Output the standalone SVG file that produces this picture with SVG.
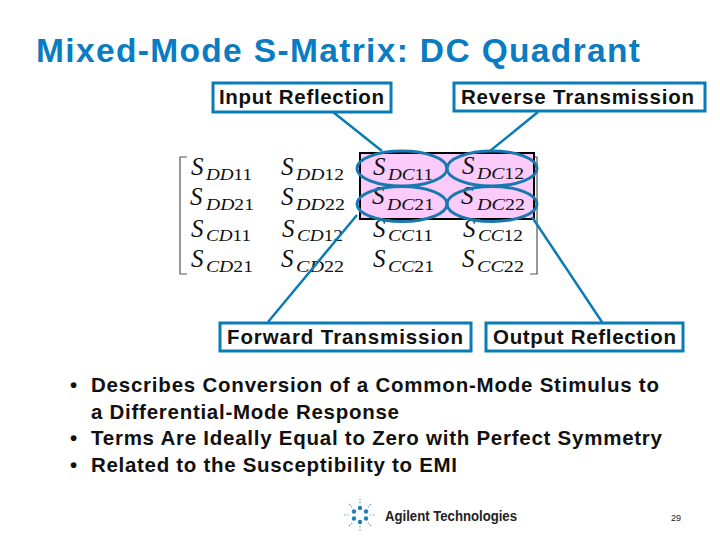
<svg xmlns="http://www.w3.org/2000/svg" width="720" height="540" viewBox="0 0 720 540">
<style>
text{font-family:"Liberation Sans",Arial,sans-serif}
.title{font-size:33.500px;font-weight:700;fill:#0a7cc1}
.lab{font-size:20.500px;font-weight:700;fill:#111}
.bul{font-size:20.500px;font-weight:700;fill:#111}
.box{fill:#fff;stroke:#0a7cb5;stroke-width:3}
.con{stroke:#0a7cb5;stroke-width:2.500;fill:none}
.el{fill:none;stroke:#1a78b0;stroke-width:3}
.s{font-family:"Liberation Serif",serif;font-style:italic;font-size:25px;fill:#111}
.b{font-family:"Liberation Serif",serif;font-size:16px;fill:#111}
.b tspan{font-style:italic}
.br{fill:none;stroke:#555;stroke-width:1.200}
.d{fill:#1f7fb5}
</style>
<rect width="720" height="540" fill="#fff"/>
<text class="title" x="36" y="62" textLength="604">Mixed-Mode S-Matrix: DC Quadrant</text>
<g id="matrix">
<path class="br" d="M187 157H180V274H187M530 157H537V274H530"/>
<rect x="360" y="153" width="174" height="66" fill="#fbccfb" stroke="#000" stroke-width="2"/>
<g id="row1">
<text class="s" x="191" y="175">S</text><text class="b" x="206" y="180" textLength="46" lengthAdjust="spacingAndGlyphs"><tspan>DD</tspan>11</text>
<text class="s" x="281" y="175">S</text><text class="b" x="296" y="180" textLength="48" lengthAdjust="spacingAndGlyphs"><tspan>DD</tspan>12</text>
<text class="s" x="373" y="175">S</text><text class="b" x="388" y="180" textLength="45" lengthAdjust="spacingAndGlyphs"><tspan>DC</tspan>11</text>
<text class="s" x="462" y="174">S</text><text class="b" x="477" y="179" textLength="47" lengthAdjust="spacingAndGlyphs"><tspan>DC</tspan>12</text>
</g>
<g id="row2">
<text class="s" x="190" y="205">S</text><text class="b" x="206" y="210" textLength="48" lengthAdjust="spacingAndGlyphs"><tspan>DD</tspan>21</text>
<text class="s" x="281" y="205">S</text><text class="b" x="296" y="210" textLength="49" lengthAdjust="spacingAndGlyphs"><tspan>DD</tspan>22</text>
<text class="s" x="372" y="204">S</text><text class="b" x="387" y="210" textLength="47" lengthAdjust="spacingAndGlyphs"><tspan>DC</tspan>21</text>
<text class="s" x="461" y="204">S</text><text class="b" x="477" y="210" textLength="48" lengthAdjust="spacingAndGlyphs"><tspan>DC</tspan>22</text>
</g>
<g id="row3">
<text class="s" x="191" y="237">S</text><text class="b" x="206" y="241" textLength="45" lengthAdjust="spacingAndGlyphs"><tspan>CD</tspan>11</text>
<text class="s" x="282" y="237">S</text><text class="b" x="297" y="241" textLength="46" lengthAdjust="spacingAndGlyphs"><tspan>CD</tspan>12</text>
<text class="s" x="373" y="237">S</text><text class="b" x="388" y="241" textLength="45" lengthAdjust="spacingAndGlyphs"><tspan>CC</tspan>11</text>
<text class="s" x="463" y="237">S</text><text class="b" x="478" y="241" textLength="45" lengthAdjust="spacingAndGlyphs"><tspan>CC</tspan>12</text>
</g>
<g id="row4">
<text class="s" x="191" y="267">S</text><text class="b" x="206" y="272" textLength="47" lengthAdjust="spacingAndGlyphs"><tspan>CD</tspan>21</text>
<text class="s" x="281" y="267">S</text><text class="b" x="296" y="272" textLength="48" lengthAdjust="spacingAndGlyphs"><tspan>CD</tspan>22</text>
<text class="s" x="373" y="267">S</text><text class="b" x="388" y="272" textLength="46" lengthAdjust="spacingAndGlyphs"><tspan>CC</tspan>21</text>
<text class="s" x="462" y="267">S</text><text class="b" x="477" y="272" textLength="47" lengthAdjust="spacingAndGlyphs"><tspan>CC</tspan>22</text>
</g>
</g>
<g id="connectors">
<path class="con" d="M333 112L382 151M538 112L490 151M357 215L268 322M532 217L602 322"/>
<ellipse class="el" cx="402" cy="168.500" rx="45" ry="17.500"/>
<ellipse class="el" cx="492" cy="168.500" rx="45" ry="17.500"/>
<ellipse class="el" cx="402" cy="204" rx="45" ry="17.500"/>
<ellipse class="el" cx="492" cy="204" rx="45" ry="17.500"/>
</g>
<g id="input-reflection"><rect class="box" x="213" y="83" width="178" height="29"/><text class="lab" x="219" y="104" textLength="165">Input Reflection</text></g>
<g id="reverse-transmission"><rect class="box" x="454" y="83" width="251" height="28"/><text class="lab" x="461" y="104" textLength="233">Reverse Transmission</text></g>
<g id="forward-transmission"><rect class="box" x="220" y="323" width="251" height="28"/><text class="lab" x="227" y="344" textLength="236">Forward Transmission</text></g>
<g id="output-reflection"><rect class="box" x="486" y="323" width="197" height="28"/><text class="lab" x="493" y="344" textLength="183">Output Reflection</text></g>
<g id="bullets">
<text class="bul" x="70" y="392">•</text><text class="bul" x="91" y="392" textLength="568">Describes Conversion of a Common-Mode Stimulus to</text>
<text class="bul" x="91" y="419" textLength="308">a Differential-Mode Response</text>
<text class="bul" x="70" y="445">•</text><text class="bul" x="91" y="445" textLength="571">Terms Are Ideally Equal to Zero with Perfect Symmetry</text>
<text class="bul" x="70" y="472">•</text><text class="bul" x="91" y="472" textLength="366">Related to the Susceptibility to EMI</text>
</g>
<g id="logo">
<circle class="d" cx="360" cy="508" r="2.200"/><circle class="d" cx="360" cy="522" r="2.200"/><circle class="d" cx="354" cy="511.500" r="2.200"/><circle class="d" cx="366" cy="511.500" r="2.200"/><circle class="d" cx="354" cy="518.500" r="2.200"/><circle class="d" cx="366" cy="518.500" r="2.200"/>
<path d="M344 515H350M370 515H376M360 499V504M360 526V532M349 504L352 507M371 504L368 507M349 526L352 523M371 526L368 523" stroke="#6aa6cc" stroke-width="1.200" stroke-dasharray="1.500 1.500" fill="none"/>
<text x="385" y="521" font-size="14" font-weight="700" fill="#222" textLength="132" lengthAdjust="spacingAndGlyphs">Agilent Technologies</text>
</g>
<text x="671" y="521" font-size="9" fill="#222">29</text>
</svg>
